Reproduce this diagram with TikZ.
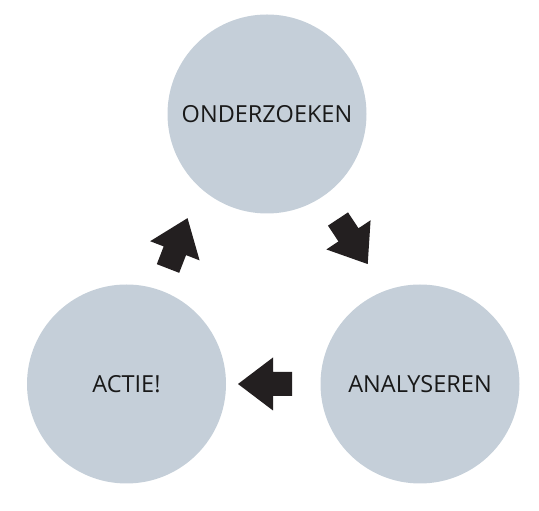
\documentclass[tikz,border=0pt]{standalone}
\usepackage{fontspec}
\setmainfont{Open Sans}
\usepackage{xcolor}
\usepackage{tikz}
\definecolor{bolgrijs}{RGB}{197,207,217}
\definecolor{pijlzwart}{RGB}{35,31,32}
\tikzset{
  fase/.style={circle,fill=bolgrijs,minimum size=199pt,inner sep=0pt,
    text=black!90,font=\fontsize{23.5}{28}\selectfont},
  blokpijl/.style={fill=pijlzwart}
}

\begin{document}
\begin{tikzpicture}[x=1pt,y=1pt]
\useasboundingbox (0,0) rectangle (539,511);
\node[fase] (onderzoeken) at (267,397) {ONDERZOEKEN};
\node[fase] (analyseren) at (420,127) {ANALYSEREN};
\node[fase] (actie) at (126.5,127) {ACTIE!};
% pijlen: staart (x,y) en richting
\foreach \x/\y/\r in {338/292/-56.6,292/127/180,168/242.5/68.8}{
  \fill[blokpijl,shift={(\x,\y)},rotate=\r]
    (0,-12) -- (19,-12) -- (19,-26.5) -- (54,0) -- (19,26.5) -- (19,12) -- (0,12) -- cycle;}
\end{tikzpicture}
\end{document}
